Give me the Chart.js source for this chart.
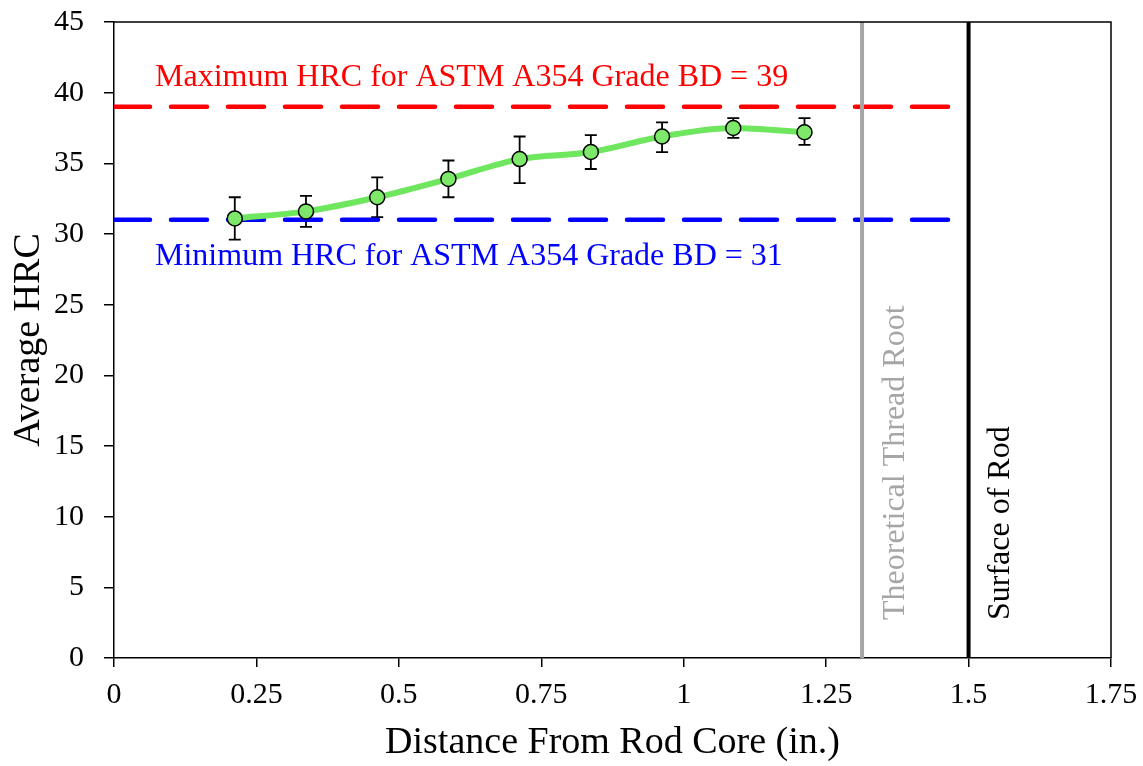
<!DOCTYPE html>
<html>
<head>
<meta charset="utf-8">
<script src="https://cdn.jsdelivr.net/npm/chart.js@4/dist/chart.umd.min.js"></script>
<style>
  html, body { margin: 0; padding: 0; background: #fff; }
  #wrap { width: 1143px; height: 766px; }
</style>
</head>
<body>
<div id="wrap"><canvas id="grafico" width="1143" height="766"></canvas></div>
<script>
// datos
const distancias = [0.212, 0.337, 0.462, 0.587, 0.712, 0.837, 0.962, 1.087, 1.212];
const promedioHRC = [31.1, 31.6, 32.6, 33.9, 35.3, 35.8, 36.9, 37.5, 37.2];
const errorArriba = [32.6, 32.7, 34.0, 35.2, 36.9, 37.0, 37.9, 38.2, 38.2];
const errorAbajo = [29.6, 30.5, 31.2, 32.6, 33.6, 34.6, 35.8, 36.8, 36.3];

const maxHRC = 39;
const minHRC = 31;
const raizRosca = 1.313;
const superficieRod = 1.5;

const ticksX = [0, 0.25, 0.5, 0.75, 1, 1.25, 1.5, 1.75];
const ticksY = [0, 5, 10, 15, 20, 25, 30, 35, 40, 45];

const fuente = "'Liberation Serif', 'Times New Roman', serif";

// barras de error (antes de los datasets para que los circulos queden encima)
const barrasError = {
  id: 'barrasError',
  beforeDatasetsDraw(chart) {
    const ctx = chart.ctx;
    const x = chart.scales.x, y = chart.scales.y;
    ctx.save();
    ctx.strokeStyle = '#000';
    ctx.lineWidth = 1.8;
    distancias.forEach((d, i) => {
      const px = x.getPixelForValue(d);
      const top = y.getPixelForValue(errorArriba[i]);
      const bot = y.getPixelForValue(errorAbajo[i]);
      ctx.beginPath();
      ctx.moveTo(px, top); ctx.lineTo(px, bot);
      ctx.moveTo(px - 6, top); ctx.lineTo(px + 6, top);
      ctx.moveTo(px - 6, bot); ctx.lineTo(px + 6, bot);
      ctx.stroke();
    });
    ctx.restore();
  }
};

// marco y textos
const extras = {
  id: 'extras',
  afterDraw(chart) {
    const ctx = chart.ctx;
    const a = chart.chartArea;
    const x = chart.scales.x, y = chart.scales.y;
    ctx.save();
    ctx.strokeStyle = '#000';
    ctx.lineWidth = 1.5;
    ctx.beginPath();
    ctx.moveTo(a.left, a.top); ctx.lineTo(a.right, a.top); ctx.lineTo(a.right, a.bottom);
    ctx.stroke();

    ctx.font = '32px ' + fuente;
    ctx.textBaseline = 'middle';
    ctx.textAlign = 'left';
    ctx.fillStyle = '#ff0000';
    ctx.fillText('Maximum HRC for ASTM A354 Grade BD = ' + maxHRC, 155, y.getPixelForValue(maxHRC) - 29);
    ctx.fillStyle = '#0000ff';
    ctx.fillText('Minimum HRC for ASTM A354 Grade BD = ' + minHRC, 155, y.getPixelForValue(minHRC) + 37);

    ctx.fillStyle = '#a6a6a6';
    ctx.save();
    ctx.translate(x.getPixelForValue(raizRosca) + 34, 620);
    ctx.rotate(-Math.PI / 2);
    ctx.fillText('Theoretical Thread Root', 0, 0);
    ctx.restore();
    ctx.fillStyle = '#000';
    ctx.save();
    ctx.translate(x.getPixelForValue(superficieRod) + 32, 620);
    ctx.rotate(-Math.PI / 2);
    ctx.fillText('Surface of Rod', 0, 0);
    ctx.restore();
    ctx.restore();
  }
};

new Chart(document.getElementById('grafico').getContext('2d'), {
  type: 'scatter',
  data: {
    datasets: [
      {
        label: 'Max',
        data: [{ x: 0, y: maxHRC }, { x: superficieRod, y: maxHRC }],
        showLine: true, borderColor: '#ff0000', borderWidth: 4.5,
        borderDash: [36, 21], borderCapStyle: 'round', pointRadius: 0, order: 5
      },
      {
        label: 'Min',
        data: [{ x: 0, y: minHRC }, { x: superficieRod, y: minHRC }],
        showLine: true, borderColor: '#0000ff', borderWidth: 4.5,
        borderDash: [36, 21], borderCapStyle: 'round', pointRadius: 0, order: 4
      },
      {
        label: 'Raiz',
        data: [{ x: raizRosca, y: 0 }, { x: raizRosca, y: 45 }],
        showLine: true, borderColor: '#a6a6a6', borderWidth: 4, pointRadius: 0, order: 3
      },
      {
        label: 'Superficie',
        data: [{ x: superficieRod, y: 0 }, { x: superficieRod, y: 45 }],
        showLine: true, borderColor: '#000', borderWidth: 4, pointRadius: 0, order: 2
      },
      {
        label: 'Average HRC',
        data: distancias.map((d, i) => ({ x: d, y: promedioHRC[i] })),
        showLine: true, borderColor: '#6ee65e', borderWidth: 6,
        cubicInterpolationMode: 'monotone',
        pointRadius: 7.5, pointBackgroundColor: '#7ee86a',
        pointBorderColor: '#000', pointBorderWidth: 1.5, order: 1
      }
    ]
  },
  options: {
    responsive: false,
    animation: false,
    layout: { padding: { left: 0, right: 32, top: 22, bottom: 0 } },
    plugins: { legend: { display: false }, tooltip: { enabled: false } },
    scales: {
      x: {
        type: 'linear', min: 0, max: 1.75,
        afterBuildTicks: (s) => { s.ticks = ticksX.map(v => ({ value: v })); },
        afterFit: (s) => { s.height = 108; s.paddingLeft = 0; s.paddingRight = 0; },
        grid: { drawOnChartArea: false, drawTicks: true, tickLength: 9, color: '#000', lineWidth: 1.5 },
        border: { display: true, color: '#000', width: 1.5 },
        ticks: { color: '#000', font: { family: fuente, size: 30 }, padding: 10, maxRotation: 0,
                 callback: (v) => String(v) },
        title: { display: true, text: 'Distance From Rod Core (in.)', color: '#000',
                 font: { family: fuente, size: 38 }, padding: { top: 6, bottom: 0 } }
      },
      y: {
        type: 'linear', min: 0, max: 45,
        afterBuildTicks: (s) => { s.ticks = ticksY.map(v => ({ value: v })); },
        afterFit: (s) => { s.width = 114; s.paddingTop = 0; s.paddingBottom = 0; },
        grid: { drawOnChartArea: false, drawTicks: true, tickLength: 10, color: '#000', lineWidth: 1.5 },
        border: { display: true, color: '#000', width: 1.5 },
        ticks: { color: '#000', font: { family: fuente, size: 30 }, padding: 20 },
        title: { display: true, text: 'Average HRC', color: '#000',
                 font: { family: fuente, size: 38 }, padding: { top: 6, bottom: 0 } }
      }
    }
  },
  plugins: [barrasError, extras]
});
</script>
</body>
</html>
